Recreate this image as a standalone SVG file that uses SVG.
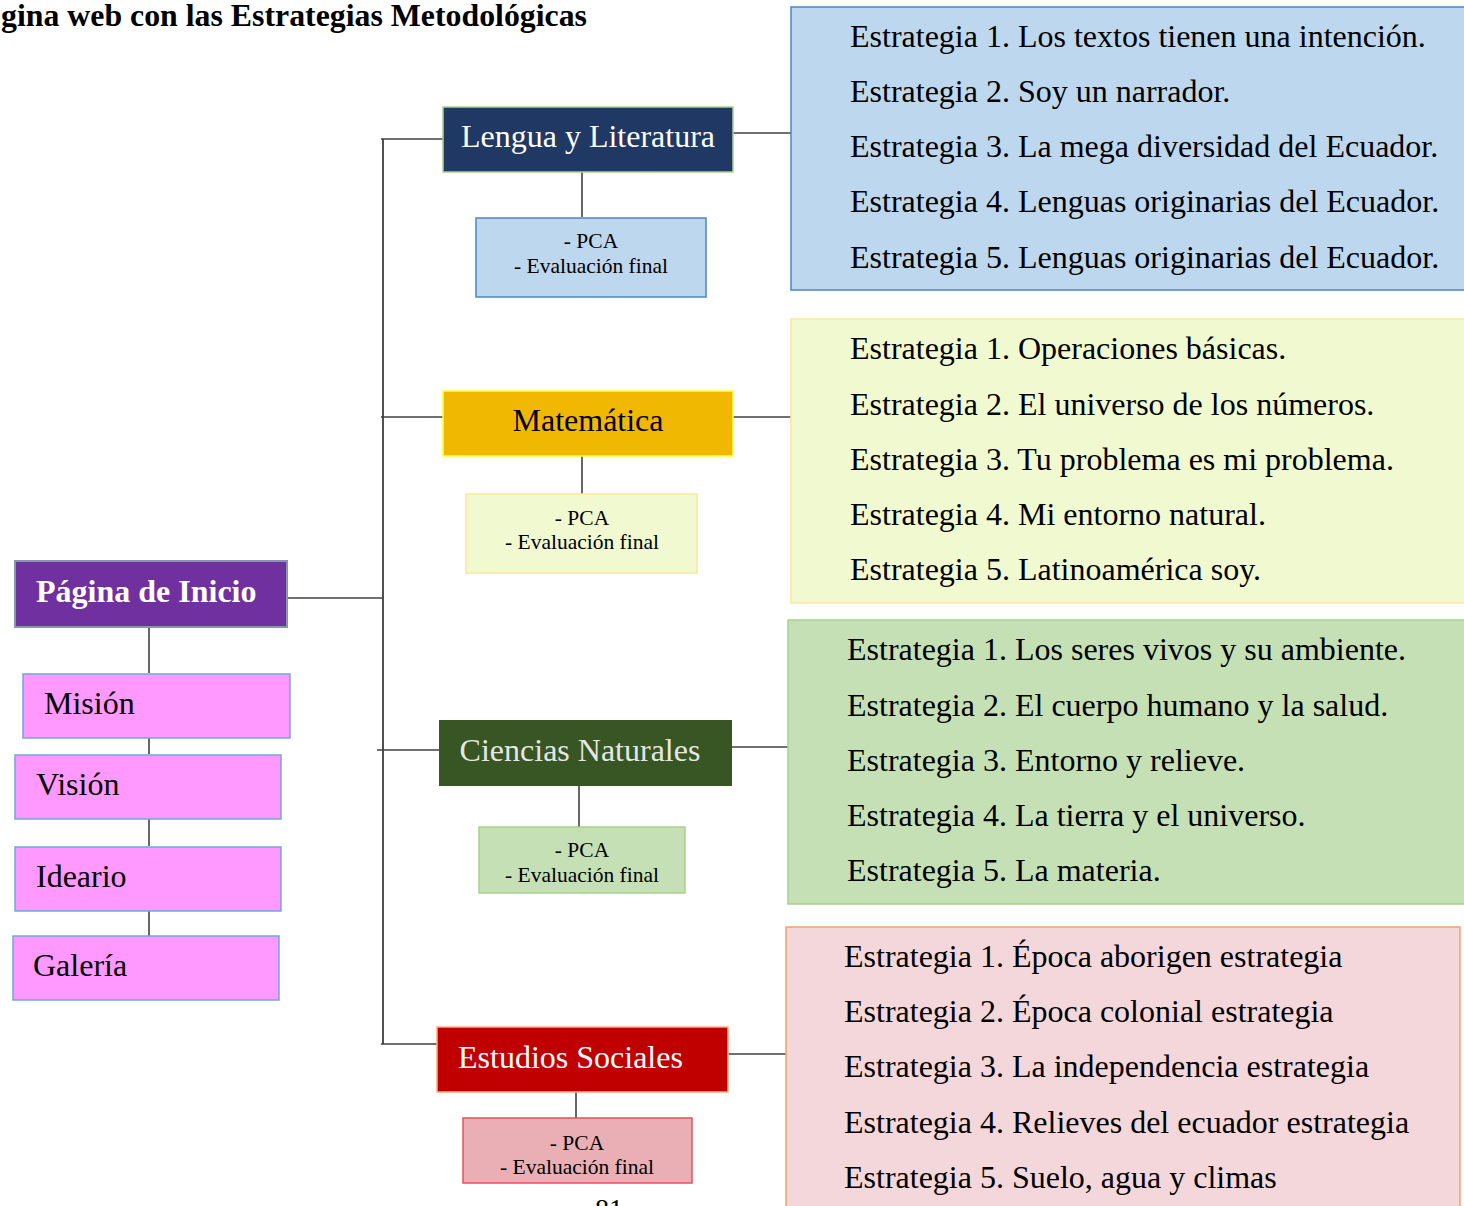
<svg xmlns="http://www.w3.org/2000/svg" width="1464" height="1206" viewBox="0 0 1464 1206">
<style>
text{font-family:"Liberation Serif","Times New Roman",serif;}
.conn line{stroke:#404040;stroke-width:1.6;}
.title{font-size:32px;font-weight:bold;fill:#000;}
.nav{fill:#ff99ff;stroke:#6fa8dc;stroke-width:1.5;}
.navt{font-size:32px;fill:#000;}
.subj{font-size:32px;}
.pcat{font-size:21.5px;fill:#000;text-anchor:middle;}
.est{font-size:32px;fill:#000;}
</style>
<rect width="1464" height="1206" fill="#ffffff"/>
<text class="title" x="1" y="26" textLength="586" lengthAdjust="spacingAndGlyphs">gina web con las Estrategias Metodológicas</text>

<g id="connectors" class="conn">
<line x1="149" y1="627" x2="149" y2="673"/>
<line x1="149" y1="738" x2="149" y2="754"/>
<line x1="149" y1="819" x2="149" y2="846"/>
<line x1="149" y1="911" x2="149" y2="936"/>
<line x1="287" y1="598" x2="383" y2="598"/>
<line x1="383" y1="139" x2="383" y2="1044" style="stroke:#505050;stroke-width:2"/>
<line x1="381" y1="139" x2="443" y2="139"/>
<line x1="381" y1="417" x2="443" y2="417"/>
<line x1="377" y1="750" x2="439" y2="750"/>
<line x1="381" y1="1044" x2="437" y2="1044"/>
<line x1="733" y1="133" x2="791" y2="133"/>
<line x1="733" y1="417" x2="791" y2="417"/>
<line x1="732" y1="747" x2="788" y2="747"/>
<line x1="728" y1="1054" x2="786" y2="1054"/>
<line x1="582" y1="172" x2="582" y2="217"/>
<line x1="582" y1="456" x2="582" y2="494"/>
<line x1="579" y1="786" x2="579" y2="827"/>
<line x1="576" y1="1092" x2="576" y2="1118"/>
</g>

<g id="node-inicio">
<rect x="15" y="561" width="272" height="66" fill="#7030a0" stroke="#8496b0" stroke-width="2"/>
<text x="36" y="602" font-size="32" font-weight="bold" fill="#ffffff">Página de Inicio</text>
</g>
<g id="node-mision">
<rect class="nav" x="23" y="674" width="267" height="64"/>
<text class="navt" x="44" y="714">Misión</text>
</g>
<g id="node-vision">
<rect class="nav" x="15" y="755" width="266" height="64"/>
<text class="navt" x="36" y="795">Visión</text>
</g>
<g id="node-ideario">
<rect class="nav" x="15" y="847" width="266" height="64"/>
<text class="navt" x="36" y="887">Ideario</text>
</g>
<g id="node-galeria">
<rect class="nav" x="13" y="936" width="266" height="64"/>
<text class="navt" x="33" y="976">Galería</text>
</g>

<g id="node-lengua">
<rect x="443" y="107" width="290" height="65" fill="#203864" stroke="#a9d18e" stroke-width="1.5"/>
<text class="subj" x="588" y="147" text-anchor="middle" fill="#ffffff">Lengua y Literatura</text>
</g>
<g id="node-lengua-pca">
<rect x="476" y="218" width="230" height="79" fill="#bdd7ee" stroke="#4a86c8" stroke-width="1.5"/>
<text class="pcat" x="591" y="248">- PCA</text>
<text class="pcat" x="591" y="273">- Evaluación final</text>
</g>
<g id="node-lengua-est">
<rect x="791" y="7" width="680" height="283" fill="#bdd7ee" stroke="#4a86c8" stroke-width="1.5"/>
<text class="est" x="850" y="47">Estrategia 1. Los textos tienen una intención.</text>
<text class="est" x="850" y="102">Estrategia 2. Soy un narrador.</text>
<text class="est" x="850" y="157">Estrategia 3. La mega diversidad del Ecuador.</text>
<text class="est" x="850" y="212">Estrategia 4. Lenguas originarias del Ecuador.</text>
<text class="est" x="850" y="268">Estrategia 5. Lenguas originarias del Ecuador.</text>
</g>

<g id="node-mate">
<rect x="443" y="391" width="290" height="65" fill="#f0b800" stroke="#ffff40" stroke-width="1.5"/>
<text class="subj" x="588" y="431" text-anchor="middle" fill="#000000">Matemática</text>
</g>
<g id="node-mate-pca">
<rect x="466" y="494" width="231" height="79" fill="#f0f9cf" stroke="#ffe699" stroke-width="1.5"/>
<text class="pcat" x="582" y="525">- PCA</text>
<text class="pcat" x="582" y="549">- Evaluación final</text>
</g>
<g id="node-mate-est">
<rect x="791" y="319" width="680" height="284" fill="#f0f9cf" stroke="#ffe699" stroke-width="1.5"/>
<text class="est" x="850" y="359">Estrategia 1. Operaciones básicas.</text>
<text class="est" x="850" y="415">Estrategia 2. El universo de los números.</text>
<text class="est" x="850" y="470">Estrategia 3. Tu problema es mi problema.</text>
<text class="est" x="850" y="525">Estrategia 4. Mi entorno natural.</text>
<text class="est" x="850" y="580">Estrategia 5. Latinoamérica soy.</text>
</g>

<g id="node-ciencias">
<rect x="439" y="720" width="293" height="66" fill="#375623"/>
<text class="subj" x="580" y="761" text-anchor="middle" fill="#e6e6e6">Ciencias Naturales</text>
</g>
<g id="node-ciencias-pca">
<rect x="479" y="827" width="206" height="66" fill="#c5e0b4" stroke="#a9d18e" stroke-width="1.5"/>
<text class="pcat" x="582" y="857">- PCA</text>
<text class="pcat" x="582" y="882">- Evaluación final</text>
</g>
<g id="node-ciencias-est">
<rect x="788" y="620" width="683" height="284" fill="#c5e0b4" stroke="#a9d18e" stroke-width="1.5"/>
<text class="est" x="847" y="660">Estrategia 1. Los seres vivos y su ambiente.</text>
<text class="est" x="847" y="716">Estrategia 2. El cuerpo humano y la salud.</text>
<text class="est" x="847" y="771">Estrategia 3. Entorno y relieve.</text>
<text class="est" x="847" y="826">Estrategia 4. La tierra y el universo.</text>
<text class="est" x="847" y="881">Estrategia 5. La materia.</text>
</g>

<g id="node-sociales">
<rect x="437" y="1027" width="291" height="65" fill="#c00000" stroke="#f4b183" stroke-width="1.5"/>
<text class="subj" x="458" y="1068" fill="#ffffff">Estudios Sociales</text>
</g>
<g id="node-sociales-pca">
<rect x="463" y="1118" width="229" height="65" fill="#eaafb4" stroke="#e8505b" stroke-width="1.5"/>
<text class="pcat" x="577" y="1150">- PCA</text>
<text class="pcat" x="577" y="1174">- Evaluación final</text>
</g>
<g id="node-sociales-est">
<rect x="786" y="927" width="674" height="300" fill="#f4d7da" stroke="#f3a16b" stroke-width="1.5"/>
<text class="est" x="844" y="967">Estrategia 1. Época aborigen estrategia</text>
<text class="est" x="844" y="1022">Estrategia 2. Época colonial estrategia</text>
<text class="est" x="844" y="1077">Estrategia 3. La independencia estrategia</text>
<text class="est" x="844" y="1133">Estrategia 4. Relieves del ecuador estrategia</text>
<text class="est" x="844" y="1188">Estrategia 5. Suelo, agua y climas</text>
</g>

<text x="595" y="1218" font-size="28" fill="#000">81</text>
</svg>
